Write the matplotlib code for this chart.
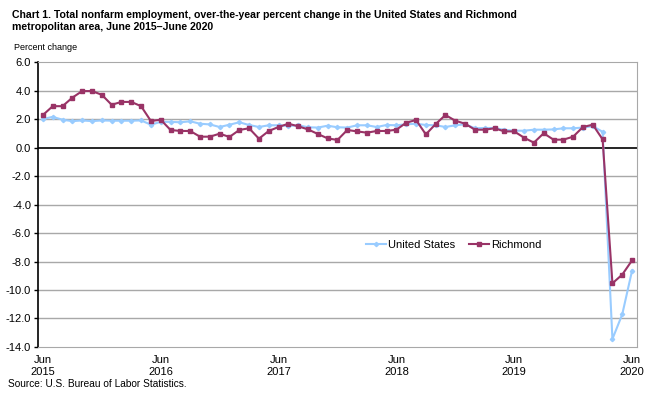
import numpy as np
import matplotlib
matplotlib.use("Agg")
import matplotlib.pyplot as plt

plt.rcParams['font.family'] = ['Liberation Sans', 'DejaVu Sans']

# months Jun 2015 .. Jun 2020
n_months = 61
us = [2.0, 2.15, 1.95, 1.85, 1.9, 1.85, 1.9, 1.88, 1.88, 1.88, 1.9, 1.6,
      1.8, 1.8, 1.77, 1.84, 1.67, 1.62, 1.44, 1.6, 1.77, 1.58, 1.44, 1.56,
      1.56, 1.51, 1.56, 1.42, 1.4, 1.53, 1.42, 1.4, 1.56, 1.56, 1.44, 1.58,
      1.56, 1.63, 1.67, 1.58, 1.56, 1.44, 1.56, 1.63, 1.35, 1.37, 1.37, 1.23,
      1.18, 1.18, 1.25, 1.25, 1.27, 1.35, 1.35, 1.4, 1.5, 1.1, -13.44, -11.71,
      -8.64]
richmond = [2.28, 2.9, 2.9, 3.5, 3.96, 3.96, 3.7, 3.0, 3.2, 3.2, 2.9, 1.86,
            1.95, 1.23, 1.16, 1.16, 0.76, 0.76, 0.97, 0.74, 1.23, 1.35, 0.62, 1.16,
            1.44, 1.67, 1.49, 1.27, 0.95, 0.64, 0.53, 1.23, 1.13, 1.04, 1.16, 1.16,
            1.25, 1.74, 1.93, 0.92, 1.65, 2.28, 1.88, 1.67, 1.25, 1.25, 1.35, 1.13,
            1.13, 0.69, 0.34, 1.0, 0.55, 0.55, 0.76, 1.44, 1.6, 0.57, -9.53, -8.92,
            -7.92]
tick_labels = ['Jun\n2015', 'Jun\n2016', 'Jun\n2017', 'Jun\n2018', 'Jun\n2019', 'Jun\n2020']
x = np.arange(n_months)

fig = plt.figure(figsize=(6.47, 3.94), dpi=100)
ax = fig.add_axes([0.0587, 0.1193, 0.9258, 0.7233])

for v in [4, 2, -2, -4, -6, -8, -10, -12]:
    ax.axhline(v, color='#a8a8a8', lw=1.0, zorder=1)
ax.axhline(0, color='black', lw=1.2, zorder=2)

ax.plot(x, us, color='#99ccff', lw=1.5, marker='D', ms=2.2, label='United States', zorder=3)
ax.plot(x, richmond, color='#993366', lw=1.5, marker='s', ms=2.2, label='Richmond', zorder=4)

ax.set_xlim(-0.5, 60.5)
ax.set_ylim(-14, 6)
ax.set_yticks(np.arange(-14, 7, 2))
ax.set_yticklabels(['%.1f' % v for v in np.arange(-14, 7, 2)], fontsize=8)
ax.set_xticks(np.arange(0, 61, 12))
ax.set_xticklabels(tick_labels, fontsize=8)
ax.tick_params(axis='x', length=0, pad=6)
ax.tick_params(axis='y', length=3, width=1, pad=2)

for s in ['top', 'right', 'bottom']:
    ax.spines[s].set_color('#a8a8a8')
ax.spines['left'].set_color('black')
ax.spines['left'].set_linewidth(1.2)

leg = ax.legend(loc='center left', bbox_to_anchor=(0.548, 0.358), ncol=2, frameon=False,
                fontsize=8, handlelength=1.8, handletextpad=0.15, columnspacing=1.3,
                borderaxespad=0, borderpad=0)

fig.text(12/647, 1 - 10/394, 'Chart 1. Total nonfarm employment, over-the-year percent change in the United States and Richmond\nmetropolitan area, June 2015\u2013June 2020',
         fontsize=7.6, fontweight='bold', va='top', ha='left', linespacing=1.2)
fig.text(14/647, 1 - 47/394, 'Percent change', fontsize=6.5, va='center', ha='left')
fig.text(8/647, 1 - 384/394, 'Source: U.S. Bureau of Labor Statistics.', fontsize=7.3, va='center', ha='left')

fig.savefig('out.png', dpi=100)
